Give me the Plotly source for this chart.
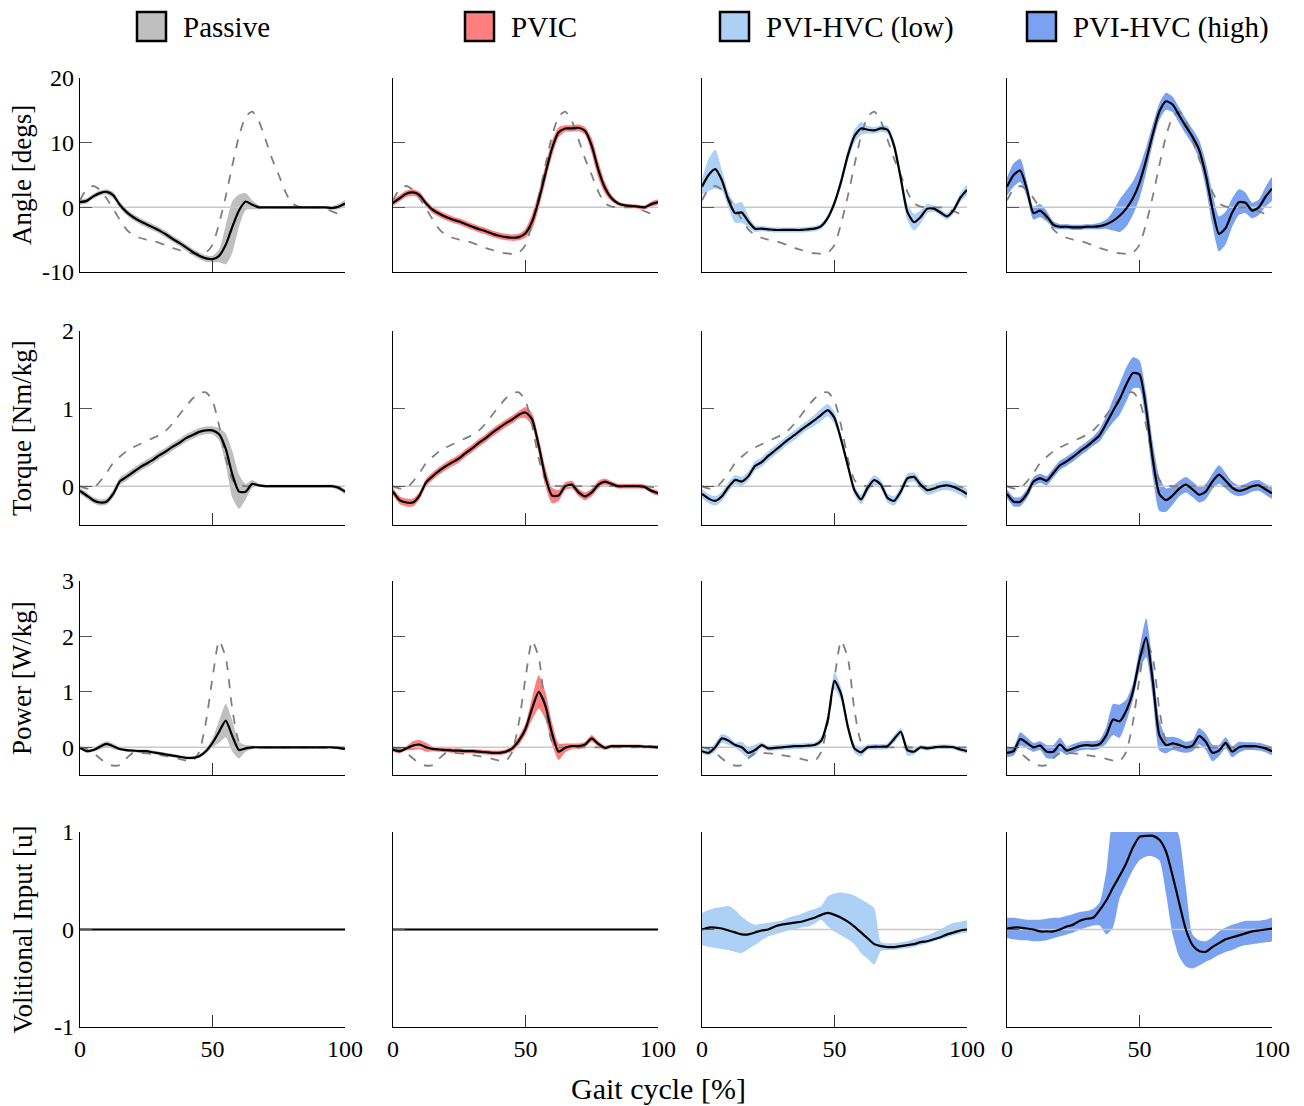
import plotly.graph_objects as go
from plotly.subplots import make_subplots

# ---------------- data ----------------
GAIT = [0, 2.5, 5, 7.5, 10, 12.5, 15, 17.5, 20, 22.5, 25, 27.5, 30, 32.5, 35, 37.5, 40,
        42.5, 45, 47.5, 50, 52.5, 55, 57.5, 60, 62.5, 65, 67.5, 70, 72.5, 75, 77.5, 80,
        82.5, 85, 87.5, 90, 92.5, 95, 97.5, 100]

CONDITIONS = ["Passive", "PVIC", "PVI-HVC (low)", "PVI-HVC (high)"]
ROW_TITLES = ["Angle [degs]", "Torque [Nm/kg]", "Power [W/kg]", "Volitional Input [u]"]
ROW_RANGES = [[-10, 20], [-0.5, 2], [-0.5, 3], [-1, 1]]
ROW_TICKS = [[-10, 0, 10, 20], [0, 1, 2], [0, 1, 2, 3], [-1, 0, 1]]
ROW_TICKTEXT = [["-10", "0", "10", "20"], ["0", "1", "2"], ["0", "1", "2", "3"], ["-1", "0", "1"]]
X_TICKS = [0, 50, 100]
X_TICKTEXT = ["0", "50", "100"]
X_TITLE = "Gait cycle [%]"

# Healthy reference (dashed)
ANGLE_REF = [1.1, 2.8, 3.3, 2.7, 1.4, -0.2, -1.9, -3.4, -4.3, -4.7, -5.0, -5.2, -5.5, -5.9, -6.3,
             -6.6, -7.0, -7.1, -7.2, -7.0, -5.8, -2.5, 1.7, 6.5, 11.0, 14.0, 14.8, 13.3, 10.5, 7.5,
             5.0, 2.4, 0.6, 0.1, 0.0, 0.0, 0.0, -0.2, -0.6, -1.0, -0.8]
TORQUE_REF = [0.0, -0.03, -0.03, 0.06, 0.17, 0.3, 0.38, 0.45, 0.5, 0.54, 0.58, 0.62, 0.66, 0.72,
              0.81, 0.92, 1.03, 1.13, 1.2, 1.21, 1.1, 0.78, 0.36, 0.08, 0.01, 0.0, 0.0, 0.0, 0.0,
              0.0, 0.0, 0.0, 0.0, 0.0, 0.0, 0.0, 0.0, 0.0, 0.0, -0.01, -0.02]
POWER_REF = [0.0, -0.03, -0.1, -0.2, -0.29, -0.33, -0.32, -0.2, -0.1, -0.1, -0.11, -0.12, -0.14,
             -0.16, -0.18, -0.21, -0.24, -0.25, -0.08, 0.45, 1.25, 1.92, 1.62, 0.68, 0.1, 0.0, 0.0,
             0.0, 0.0, 0.0, 0.0, 0.0, 0.0, 0.0, 0.0, 0.0, 0.0, 0.0, 0.0, 0.0, 0.0]

# Angle
ANGLE_PASSIVE = [0.8, 1.0, 1.7, 2.2, 2.4, 1.9, 0.4, -0.7, -1.5, -2.1, -2.6, -3.1, -3.6, -4.2, -4.9,
                 -5.5, -6.2, -6.9, -7.5, -7.9, -8.0, -7.5, -5.8, -3.0, -0.5, 0.9, 0.4, 0.0, 0.0, 0.0,
                 0.0, 0.0, 0.0, 0.0, 0.0, 0.0, 0.0, 0.0, -0.1, 0.1, 0.6]
ANGLE_PASSIVE_SD = [0.4, 0.4, 0.4, 0.4, 0.4, 0.5, 0.5, 0.5, 0.5, 0.5, 0.5, 0.5, 0.5, 0.5, 0.5, 0.5,
                    0.5, 0.5, 0.5, 0.5, 0.5, 1.0, 3.0, 4.0, 2.5, 1.3, 0.7, 0.3, 0.2, 0.2, 0.2, 0.2,
                    0.2, 0.2, 0.2, 0.2, 0.2, 0.2, 0.3, 0.4, 0.5]
ANGLE_PVIC = [0.7, 1.4, 2.1, 2.3, 1.9, 0.6, -0.4, -1.0, -1.5, -1.9, -2.2, -2.6, -3.0, -3.4, -3.7,
              -4.1, -4.4, -4.6, -4.7, -4.6, -4.0, -2.2, 1.1, 5.2, 9.1, 11.6, 12.2, 12.2, 12.3, 11.8,
              9.5, 5.8, 3.0, 1.4, 0.6, 0.3, 0.2, 0.1, 0.0, 0.5, 0.8]
ANGLE_PVIC_SD = [0.5, 0.5, 0.5, 0.5, 0.5, 0.5, 0.5, 0.5, 0.5, 0.5, 0.5, 0.5, 0.5, 0.5, 0.5, 0.5,
                 0.5, 0.5, 0.5, 0.5, 0.7, 1.2, 1.3, 1.3, 1.2, 0.8, 0.5, 0.5, 0.5, 0.6, 1.2, 1.3,
                 0.9, 0.5, 0.3, 0.3, 0.3, 0.3, 0.3, 0.4, 0.4]
ANGLE_LOW = [3.2, 5.0, 5.9, 4.2, 1.1, -0.9, -0.8, -2.2, -3.3, -3.3, -3.4, -3.5, -3.5, -3.5, -3.5,
             -3.5, -3.4, -3.3, -2.9, -1.6, 0.7, 4.0, 8.0, 11.0, 12.2, 12.0, 11.9, 12.2, 12.0, 9.5,
             4.5, -0.7, -2.3, -1.5, -0.2, -0.2, -0.8, -1.4, -0.4, 1.5, 2.7]
ANGLE_LOW_SD = [1.2, 2.5, 3.0, 1.6, 1.2, 1.5, 1.6, 0.9, 0.5, 0.4, 0.4, 0.4, 0.4, 0.4, 0.4, 0.4,
                0.4, 0.4, 0.4, 0.5, 0.6, 0.8, 0.9, 1.0, 1.0, 0.6, 0.5, 0.5, 0.6, 0.8, 1.0, 1.3,
                1.3, 1.0, 0.7, 0.5, 0.5, 0.5, 0.5, 0.7, 0.8]
ANGLE_HIGH = [3.2, 5.0, 5.7, 2.8, -0.9, -0.5, -1.4, -2.7, -3.0, -3.0, -3.1, -3.1, -3.0, -3.0, -2.9,
              -2.6, -2.1, -1.3, -0.2, 1.4, 3.8, 7.3, 11.3, 14.8, 16.4, 15.9, 14.2, 12.5, 10.9, 8.9,
              5.0, -0.2, -4.1, -3.2, -0.8, 0.8, 0.7, -0.5, 0.0, 1.6, 2.9]
ANGLE_HIGH_SD = [1.4, 1.8, 1.8, 1.2, 1.0, 1.0, 0.8, 0.5, 0.4, 0.4, 0.4, 0.4, 0.4, 0.4, 0.5, 0.7,
                 1.5, 2.5, 2.8, 2.6, 2.4, 2.0, 1.5, 1.3, 1.3, 1.2, 1.2, 1.2, 1.2, 1.5, 2.0, 2.5,
                 2.7, 2.5, 2.2, 2.0, 1.6, 1.2, 1.2, 1.5, 1.8]

# Torque
TORQUE_PASSIVE = [-0.06, -0.12, -0.18, -0.21, -0.2, -0.1, 0.06, 0.12, 0.18, 0.24, 0.29, 0.34, 0.4,
                  0.45, 0.51, 0.56, 0.62, 0.66, 0.7, 0.72, 0.72, 0.67, 0.48, 0.15, -0.07, -0.07,
                  0.03, 0.01, 0.0, 0.0, 0.0, 0.0, 0.0, 0.0, 0.0, 0.0, 0.0, 0.0, 0.0, -0.02, -0.07]
TORQUE_PASSIVE_SD = [0.04, 0.04, 0.04, 0.04, 0.04, 0.05, 0.05, 0.05, 0.05, 0.05, 0.05, 0.05, 0.05,
                     0.05, 0.05, 0.05, 0.05, 0.05, 0.05, 0.05, 0.05, 0.08, 0.2, 0.3, 0.22, 0.1,
                     0.05, 0.02, 0.02, 0.02, 0.02, 0.02, 0.02, 0.02, 0.02, 0.02, 0.02, 0.02, 0.02,
                     0.03, 0.03]
TORQUE_PVIC = [-0.07, -0.18, -0.21, -0.21, -0.12, 0.05, 0.13, 0.2, 0.26, 0.31, 0.36, 0.43, 0.49,
               0.56, 0.62, 0.69, 0.75, 0.81, 0.86, 0.92, 0.95, 0.86, 0.52, 0.12, -0.12, -0.12, 0.0,
               0.02, -0.08, -0.13, -0.08, 0.02, 0.06, 0.03, 0.0, 0.0, 0.0, 0.0, -0.01, -0.06, -0.09]
TORQUE_PVIC_SD = [0.05, 0.05, 0.05, 0.05, 0.05, 0.05, 0.05, 0.05, 0.05, 0.05, 0.05, 0.05, 0.05,
                  0.05, 0.05, 0.05, 0.05, 0.05, 0.05, 0.05, 0.07, 0.08, 0.1, 0.12, 0.1, 0.07, 0.05,
                  0.05, 0.05, 0.05, 0.05, 0.05, 0.04, 0.03, 0.03, 0.03, 0.03, 0.03, 0.03, 0.03, 0.03]
TORQUE_LOW = [-0.1, -0.16, -0.19, -0.13, -0.01, 0.08, 0.06, 0.13, 0.26, 0.31, 0.39, 0.46, 0.53,
              0.6, 0.66, 0.73, 0.79, 0.85, 0.92, 0.98, 0.88, 0.6, 0.27, -0.05, -0.17, -0.02, 0.08,
              0.02, -0.15, -0.19, -0.07, 0.1, 0.12, 0.02, -0.05, -0.03, 0.0, 0.01, -0.01, -0.05, -0.1]
TORQUE_LOW_SD = [0.06, 0.06, 0.06, 0.06, 0.06, 0.06, 0.06, 0.06, 0.06, 0.06, 0.06, 0.06, 0.06,
                 0.06, 0.06, 0.06, 0.06, 0.07, 0.08, 0.08, 0.08, 0.06, 0.06, 0.06, 0.06, 0.06,
                 0.06, 0.06, 0.06, 0.06, 0.06, 0.06, 0.06, 0.06, 0.06, 0.06, 0.06, 0.06, 0.06,
                 0.06, 0.06]
TORQUE_HIGH = [-0.1, -0.2, -0.2, -0.1, 0.06, 0.1, 0.07, 0.17, 0.27, 0.32, 0.38, 0.45, 0.51, 0.58,
               0.66, 0.81, 0.97, 1.12, 1.31, 1.46, 1.44, 1.0, 0.35, -0.1, -0.18, -0.12, -0.03, 0.02,
               -0.04, -0.11, -0.07, 0.06, 0.15, 0.07, -0.02, -0.06, -0.04, 0.0, 0.01, -0.04, -0.09]
TORQUE_HIGH_SD = [0.06, 0.06, 0.06, 0.06, 0.06, 0.06, 0.06, 0.06, 0.06, 0.06, 0.06, 0.06, 0.06,
                  0.06, 0.08, 0.1, 0.15, 0.2, 0.22, 0.2, 0.18, 0.2, 0.22, 0.22, 0.15, 0.12, 0.1,
                  0.1, 0.1, 0.1, 0.1, 0.1, 0.12, 0.1, 0.08, 0.07, 0.07, 0.07, 0.07, 0.07, 0.07]

# Power
POWER_PASSIVE = [-0.01, -0.07, -0.05, 0.01, 0.06, 0.02, -0.03, -0.05, -0.06, -0.07, -0.07, -0.09,
                 -0.11, -0.13, -0.15, -0.17, -0.19, -0.19, -0.16, -0.07, 0.08, 0.28, 0.48, 0.2,
                 -0.05, -0.02, 0.0, 0.0, 0.0, 0.0, 0.0, 0.0, 0.0, 0.0, 0.0, 0.0, 0.0, 0.0, 0.0,
                 -0.01, -0.03]
POWER_PASSIVE_SD = [0.03, 0.03, 0.03, 0.05, 0.05, 0.05, 0.03, 0.03, 0.03, 0.03, 0.03, 0.03, 0.03,
                    0.03, 0.03, 0.03, 0.03, 0.03, 0.03, 0.04, 0.08, 0.2, 0.3, 0.28, 0.15, 0.06,
                    0.03, 0.02, 0.02, 0.02, 0.02, 0.02, 0.02, 0.02, 0.02, 0.02, 0.02, 0.02, 0.02,
                    0.02, 0.02]
POWER_PVIC = [-0.04, -0.07, -0.02, 0.03, 0.05, 0.0, -0.03, -0.04, -0.05, -0.06, -0.06, -0.07,
              -0.07, -0.08, -0.09, -0.1, -0.1, -0.08, -0.02, 0.12, 0.33, 0.7, 1.0, 0.75, 0.25,
              -0.08, -0.01, 0.02, 0.02, 0.05, 0.16, 0.06, -0.01, 0.02, 0.02, 0.02, 0.02, 0.02,
              0.01, 0.01, 0.0]
POWER_PVIC_SD = [0.04, 0.04, 0.04, 0.08, 0.08, 0.08, 0.04, 0.04, 0.04, 0.04, 0.04, 0.04, 0.04,
                 0.04, 0.04, 0.04, 0.04, 0.04, 0.05, 0.08, 0.1, 0.2, 0.3, 0.25, 0.2, 0.15, 0.08,
                 0.05, 0.05, 0.05, 0.06, 0.05, 0.04, 0.03, 0.03, 0.03, 0.03, 0.03, 0.03, 0.03, 0.03]
POWER_LOW = [-0.07, -0.1, 0.0, 0.16, 0.12, 0.04, 0.0, -0.1, -0.05, 0.04, -0.02, -0.01, 0.0, 0.01,
             0.02, 0.02, 0.03, 0.04, 0.12, 0.5, 1.2, 0.96, 0.38, -0.02, -0.09, 0.0, 0.01, 0.01,
             0.02, 0.15, 0.28, -0.05, -0.08, 0.0, -0.02, 0.0, 0.01, 0.01, 0.0, -0.04, -0.07]
POWER_LOW_SD = [0.05, 0.05, 0.08, 0.08, 0.08, 0.05, 0.1, 0.1, 0.1, 0.05, 0.05, 0.05, 0.05, 0.05,
                0.05, 0.05, 0.05, 0.05, 0.06, 0.12, 0.15, 0.12, 0.1, 0.08, 0.08, 0.05, 0.05, 0.05,
                0.05, 0.07, 0.07, 0.1, 0.05, 0.04, 0.04, 0.04, 0.04, 0.04, 0.04, 0.04, 0.04]
POWER_HIGH = [-0.1, -0.07, 0.15, 0.08, 0.0, 0.03, -0.08, -0.08, 0.05, -0.06, -0.02, 0.02, 0.04,
              0.03, 0.06, 0.22, 0.5, 0.47, 0.66, 1.0, 1.58, 1.98, 1.2, 0.22, 0.04, 0.07, 0.04, 0.0,
              0.03, 0.2, 0.1, -0.1, -0.06, 0.08, -0.08, 0.0, 0.02, 0.02, 0.01, -0.02, -0.07]
POWER_HIGH_SD = [0.08, 0.08, 0.12, 0.1, 0.08, 0.08, 0.12, 0.12, 0.12, 0.08, 0.08, 0.08, 0.08,
                 0.08, 0.08, 0.15, 0.28, 0.3, 0.2, 0.15, 0.2, 0.35, 0.3, 0.28, 0.15, 0.12, 0.12,
                 0.1, 0.1, 0.15, 0.15, 0.15, 0.1, 0.1, 0.1, 0.1, 0.07, 0.07, 0.07, 0.07, 0.07]

# Volitional input
VOL_PASSIVE = [0.0, 0.0, 0.0, 0.0, 0.0, 0.0, 0.0, 0.0, 0.0, 0.0, 0.0, 0.0, 0.0, 0.0, 0.0, 0.0, 0.0,
               0.0, 0.0, 0.0, 0.0, 0.0, 0.0, 0.0, 0.0, 0.0, 0.0, 0.0, 0.0, 0.0, 0.0, 0.0, 0.0, 0.0,
               0.0, 0.0, 0.0, 0.0, 0.0, 0.0, 0.0]
VOL_PVIC = [0.0, 0.0, 0.0, 0.0, 0.0, 0.0, 0.0, 0.0, 0.0, 0.0, 0.0, 0.0, 0.0, 0.0, 0.0, 0.0, 0.0,
            0.0, 0.0, 0.0, 0.0, 0.0, 0.0, 0.0, 0.0, 0.0, 0.0, 0.0, 0.0, 0.0, 0.0, 0.0, 0.0, 0.0,
            0.0, 0.0, 0.0, 0.0, 0.0, 0.0, 0.0]
VOL_LOW = [0.0, 0.02, 0.02, 0.01, -0.01, -0.03, -0.05, -0.05, -0.03, -0.01, 0.0, 0.03, 0.05, 0.06,
           0.07, 0.08, 0.1, 0.12, 0.15, 0.17, 0.15, 0.12, 0.08, 0.03, -0.03, -0.09, -0.15, -0.17,
           -0.18, -0.18, -0.17, -0.16, -0.15, -0.13, -0.12, -0.1, -0.08, -0.05, -0.03, -0.01, 0.0]
VOL_LOW_HI = [0.17, 0.2, 0.22, 0.23, 0.24, 0.2, 0.13, 0.08, 0.05, 0.06, 0.07, 0.08, 0.09, 0.12,
              0.14, 0.16, 0.19, 0.21, 0.24, 0.34, 0.37, 0.38, 0.37, 0.35, 0.31, 0.27, 0.22, -0.13,
              -0.14, -0.14, -0.13, -0.12, -0.1, -0.08, -0.06, -0.03, 0.0, 0.04, 0.07, 0.08, 0.09]
VOL_LOW_LO = [-0.16, -0.18, -0.19, -0.2, -0.21, -0.23, -0.24, -0.2, -0.16, -0.11, -0.07, -0.05,
              -0.03, -0.01, 0.0, 0.02, 0.03, 0.06, 0.1, 0.03, -0.02, -0.06, -0.1, -0.15, -0.24,
              -0.3, -0.36, -0.22, -0.21, -0.21, -0.2, -0.19, -0.18, -0.16, -0.14, -0.12, -0.1,
              -0.08, -0.06, -0.04, -0.03]
VOL_HIGH = [0.01, 0.02, 0.02, 0.01, 0.0, -0.02, -0.02, -0.02, 0.0, 0.03, 0.05, 0.09, 0.11, 0.12,
            0.2, 0.3, 0.43, 0.55, 0.68, 0.84, 0.95, 0.96, 0.96, 0.92, 0.8, 0.55, 0.27, 0.0, -0.16,
            -0.22, -0.23, -0.18, -0.14, -0.1, -0.08, -0.06, -0.04, -0.02, -0.01, 0.0, 0.01]
VOL_HIGH_HI = [0.12, 0.12, 0.11, 0.1, 0.1, 0.1, 0.11, 0.12, 0.12, 0.14, 0.16, 0.18, 0.19, 0.21,
               0.28, 0.6, 1.1, 1.1, 1.1, 1.1, 1.1, 1.1, 1.1, 1.1, 1.1, 1.1, 0.95, 0.44, -0.05,
               -0.11, -0.12, -0.08, -0.02, 0.02, 0.05, 0.07, 0.09, 0.09, 0.09, 0.1, 0.12]
VOL_HIGH_LO = [-0.09, -0.1, -0.11, -0.11, -0.12, -0.12, -0.11, -0.09, -0.07, -0.05, -0.03, 0.0,
               0.02, 0.04, 0.04, -0.05, 0.02, 0.32, 0.47, 0.61, 0.71, 0.75, 0.75, 0.71, 0.37, -0.05,
               -0.28, -0.38, -0.4, -0.37, -0.33, -0.3, -0.26, -0.23, -0.21, -0.18, -0.16, -0.15,
               -0.14, -0.13, -0.12]

# ---------------- style ----------------
FILL_COLORS = ["#BFBFBF", "#FF7F7F", "#ADD0F7", "#7BA2F0"]
FONT = "Liberation Serif"
W, H = 1304, 1106
COL_PX = [(80, 345), (393, 658), (702, 967), (1007, 1272)]
ROW_PX = [(78, 272), (331, 525), (581, 775), (832, 1027)]
LEGEND_SQ_X = [137, 465, 720, 1027]


def band(mean, sd):
    return [m + s for m, s in zip(mean, sd)], [m - s for m, s in zip(mean, sd)]


MEANS = [
    [ANGLE_PASSIVE, ANGLE_PVIC, ANGLE_LOW, ANGLE_HIGH],
    [TORQUE_PASSIVE, TORQUE_PVIC, TORQUE_LOW, TORQUE_HIGH],
    [POWER_PASSIVE, POWER_PVIC, POWER_LOW, POWER_HIGH],
    [VOL_PASSIVE, VOL_PVIC, VOL_LOW, VOL_HIGH],
]
SDS = [
    [ANGLE_PASSIVE_SD, ANGLE_PVIC_SD, ANGLE_LOW_SD, ANGLE_HIGH_SD],
    [TORQUE_PASSIVE_SD, TORQUE_PVIC_SD, TORQUE_LOW_SD, TORQUE_HIGH_SD],
    [POWER_PASSIVE_SD, POWER_PVIC_SD, POWER_LOW_SD, POWER_HIGH_SD],
]
REFS = [ANGLE_REF, TORQUE_REF, POWER_REF, None]

BANDS = {}
for r in range(3):
    for c in range(4):
        BANDS[(r, c)] = band(MEANS[r][c], SDS[r][c])
BANDS[(3, 2)] = (VOL_LOW_HI, VOL_LOW_LO)
BANDS[(3, 3)] = (VOL_HIGH_HI, VOL_HIGH_LO)

fig = make_subplots(rows=4, cols=4)

for r in range(4):
    for c in range(4):
        row, col = r + 1, c + 1
        if (r, c) in BANDS:
            hi, lo = BANDS[(r, c)]
            fig.add_trace(go.Scatter(
                x=GAIT + GAIT[::-1], y=hi + lo[::-1], mode="lines", fill="toself",
                fillcolor=FILL_COLORS[c], line=dict(width=0, shape="spline", smoothing=0.6),
                hoverinfo="skip"), row=row, col=col)
        fig.add_trace(go.Scatter(
            x=[GAIT[0], GAIT[-1]], y=[0, 0], mode="lines",
            line=dict(color="#C8C8C8", width=1.5), hoverinfo="skip"), row=row, col=col)
        if REFS[r] is not None:
            fig.add_trace(go.Scatter(
                x=GAIT, y=REFS[r], mode="lines",
                line=dict(color="#7F7F7F", width=1.8, dash="dash", shape="spline", smoothing=0.6)),
                row=row, col=col)
        fig.add_trace(go.Scatter(
            x=GAIT, y=MEANS[r][c], mode="lines",
            line=dict(color="black", width=2.2, shape="spline", smoothing=0.6)),
            row=row, col=col)

        n = r * 4 + c + 1
        xname = "xaxis" if n == 1 else f"xaxis{n}"
        yname = "yaxis" if n == 1 else f"yaxis{n}"
        x0, x1 = COL_PX[c]
        y0, y1 = ROW_PX[r]
        fig.layout[xname].update(
            domain=[x0 / W, x1 / W], range=[0, 100], tickvals=X_TICKS, ticktext=X_TICKTEXT,
            ticks="inside", ticklen=12, tickwidth=1, tickcolor="#333333", automargin=False,
            showline=True, linecolor="black", linewidth=1.3, showgrid=False, zeroline=False,
            showticklabels=(r == 3), tickfont=dict(family=FONT, size=24, color="black"))
        fig.layout[yname].update(
            domain=[1 - y1 / H, 1 - y0 / H], range=ROW_RANGES[r], tickvals=ROW_TICKS[r],
            ticktext=ROW_TICKTEXT[r], ticks="inside", ticklen=12, tickwidth=1,
            tickcolor="#555555", showline=True, linecolor="black", linewidth=1.3,
            showgrid=False, zeroline=False, showticklabels=(c == 0), automargin=False,
            tickfont=dict(family=FONT, size=24, color="black"))

annotations = []
for r in range(4):
    y0, y1 = ROW_PX[r]
    annotations.append(dict(
        text=ROW_TITLES[r], x=22 / W, y=1 - (y0 + y1) / 2 / H, xref="paper", yref="paper",
        xanchor="center", yanchor="middle", textangle=-90, showarrow=False,
        font=dict(family=FONT, size=27, color="black")))
annotations.append(dict(
    text=X_TITLE, x=658 / W, y=1 - 1088 / H, xref="paper", yref="paper",
    xanchor="center", yanchor="middle", showarrow=False,
    font=dict(family=FONT, size=30, color="black")))

shapes = []
for i, name in enumerate(CONDITIONS):
    sx = LEGEND_SQ_X[i]
    shapes.append(dict(
        type="rect", xref="paper", yref="paper", x0=sx / W, x1=(sx + 29) / W,
        y0=1 - 41 / H, y1=1 - 12 / H, fillcolor=FILL_COLORS[i],
        line=dict(color="black", width=2.5)))
    annotations.append(dict(
        text=name, x=(sx + 44) / W, y=1 - 27 / H, xref="paper", yref="paper",
        xanchor="left", yanchor="middle", showarrow=False,
        font=dict(family=FONT, size=29, color="black")))

fig.update_layout(
    width=W, height=H, margin=dict(l=0, r=0, t=0, b=0, autoexpand=False),
    paper_bgcolor="white", plot_bgcolor="white", showlegend=False,
    annotations=annotations, shapes=shapes, font=dict(family=FONT))

fig.write_html(
    "out.html",
    config={"displayModeBar": False},
    post_script="document.body.style.margin='0';document.body.style.overflow='hidden';")
